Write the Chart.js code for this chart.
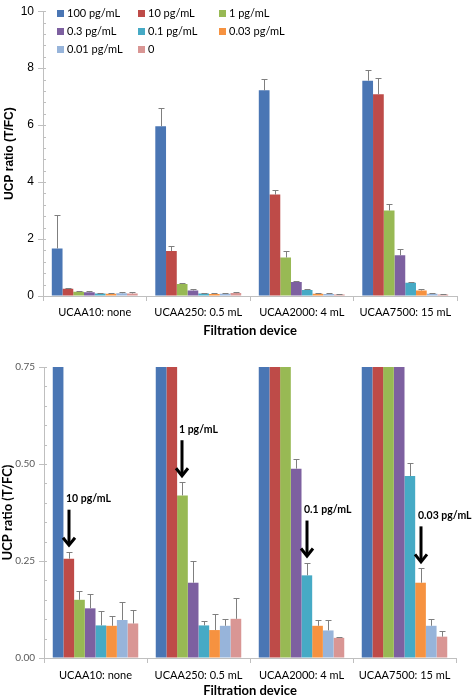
<!DOCTYPE html>
<html>
<head>
<meta charset="utf-8">
<script src="https://cdn.jsdelivr.net/npm/chart.js@4.4.1/dist/chart.umd.min.js"></script>
<style>
  html, body { margin: 0; padding: 0; background: #fff; }
  #wrap { position: relative; width: 472px; height: 699px; overflow: hidden; }
  #top { position: absolute; left: 0; top: 0; }
  #bottom { position: absolute; left: 0; top: 345px; }
  #legend { position: absolute; left: 57px; top: 6px; width: 250px; font-family: Lato, sans-serif; font-size: 11px; color: #000; }
  .li { position: absolute; height: 14px; line-height: 14px; white-space: nowrap; }
  .li span.box { display: inline-block; width: 7px; height: 7px; margin-right: 3px; vertical-align: 0px; }
</style>
</head>
<body>
<div id="wrap">
  <canvas id="top" width="472" height="340"></canvas>
  <canvas id="bottom" width="472" height="354"></canvas>
  <div id="legend"></div>
</div>
<script>
// ---------------- DATA ----------------
const categories = ['UCAA10: none', 'UCAA250: 0.5 mL', 'UCAA2000: 4 mL', 'UCAA7500: 15 mL'];
const seriesNames = ['100 pg/mL', '10 pg/mL', '1 pg/mL', '0.3 pg/mL', '0.1 pg/mL', '0.03 pg/mL', '0.01 pg/mL', '0'];
const seriesColors = ['#4A76B4', '#BE4B48', '#98B954', '#7D60A0', '#46AAC5', '#F69240', '#97B4DA', '#D99694'];

const s100  = [1.67, 5.96, 7.22, 7.56];
const s10   = [0.256, 1.58, 3.56, 7.08];
const s1    = [0.150, 0.419, 1.35, 3.00];
const s03   = [0.128, 0.194, 0.488, 1.43];
const s01   = [0.084, 0.084, 0.213, 0.469];
const s003  = [0.083, 0.072, 0.083, 0.194];
const s001  = [0.098, 0.083, 0.071, 0.083];
const s0    = [0.089, 0.101, 0.052, 0.055];

const e100  = [1.16, 0.65, 0.40, 0.37];
const e10   = [0.018, 0.17, 0.17, 0.58];
const e1    = [0.023, 0.034, 0.23, 0.22];
const e03   = [0.038, 0.055, 0.025, 0.21];
const e01   = [0.036, 0.011, 0.033, 0.033];
const e003  = [0.026, 0.042, 0.015, 0.037];
const e001  = [0.046, 0.017, 0.027, 0.017];
const e0    = [0.036, 0.053, 0.002, 0.015];

const seriesValues = [s100, s10, s1, s03, s01, s003, s001, s0];
const seriesErrors = [e100, e10, e1, e03, e01, e003, e001, e0];

const topTicks = [0, 2, 4, 6, 8, 10];
const topMinorStep = 0.4;
const bottomTicks = [0, 0.25, 0.5, 0.75];
const bottomMinorStep = 0.05;

// annotations on the zoomed chart: label and the series it points at, per category
const annotLabels = ['10 pg/mL', '1 pg/mL', '0.1 pg/mL', '0.03 pg/mL'];
const annotSeries = [1, 2, 4, 5];

// ---------------- LEGEND ----------------
const legend = document.getElementById('legend');
seriesNames.forEach((n, i) => {
  const d = document.createElement('div');
  d.className = 'li';
  d.style.left = ((i % 3) * 81) + 'px';
  d.style.top = (Math.floor(i / 3) * 18.2) + 'px';
  d.innerHTML = '<span class="box" style="background:' + seriesColors[i] + '"></span>' + n;
  legend.appendChild(d);
});

// ---------------- PLUGINS ----------------
const errorBars = {
  id: 'errorBars',
  afterDatasetsDraw(chart) {
    const ctx = chart.ctx, y = chart.scales.y, a = chart.chartArea;
    ctx.save();
    ctx.beginPath();
    ctx.rect(a.left, a.top - 1, a.right - a.left, a.bottom - a.top + 1);
    ctx.clip();
    ctx.strokeStyle = '#7F7F7F';
    ctx.lineWidth = 1;
    chart.data.datasets.forEach((ds, di) => {
      const meta = chart.getDatasetMeta(di);
      meta.data.forEach((bar, i) => {
        const v = ds.data[i], e = seriesErrors[di][i];
        const x = Math.round(bar.x) + 0.5;
        const y1 = y.getPixelForValue(v);
        const y2 = Math.round(y.getPixelForValue(v + e)) + 0.5;
        ctx.beginPath();
        ctx.moveTo(x, y1);
        ctx.lineTo(x, y2);
        ctx.moveTo(x - 3, y2);
        ctx.lineTo(x + 3, y2);
        ctx.stroke();
      });
    });
    ctx.restore();
  }
};

function minorTicksPlugin(step) {
  return {
    id: 'minorTicks',
    afterDraw(chart) {
      const ctx = chart.ctx, y = chart.scales.y;
      const x = chart.chartArea.left;
      ctx.save();
      ctx.strokeStyle = '#BFBFBF';
      ctx.lineWidth = 1;
      const n = Math.round((y.max - y.min) / step);
      for (let k = 0; k <= n; k++) {
        const v = y.min + k * step;
        const py = Math.round(y.getPixelForValue(v)) + 0.5;
        ctx.beginPath();
        ctx.moveTo(x, py);
        ctx.lineTo(x + 3, py);
        ctx.stroke();
      }
      ctx.restore();
    }
  };
}

const arrows = {
  id: 'arrows',
  afterDraw(chart) {
    const ctx = chart.ctx, y = chart.scales.y;
    ctx.save();
    annotSeries.forEach((si, ci) => {
      const bar = chart.getDatasetMeta(si).data[ci];
      const top = y.getPixelForValue(seriesValues[si][ci] + seriesErrors[si][ci]);
      const x = Math.round(bar.x);
      const tip = top - 5;
      const start = tip - 37;
      ctx.strokeStyle = '#000';
      ctx.fillStyle = '#000';
      ctx.lineWidth = 3;
      ctx.beginPath();
      ctx.moveTo(x, start);
      ctx.lineTo(x, tip - 3);
      ctx.stroke();
      ctx.lineJoin = 'miter';
      ctx.beginPath();
      ctx.moveTo(x - 6, tip - 9);
      ctx.lineTo(x, tip - 1.5);
      ctx.lineTo(x + 6, tip - 9);
      ctx.stroke();
      ctx.font = 'bold 10.5px Lato';
      ctx.textAlign = 'left';
      ctx.textBaseline = 'middle';
      ctx.fillText(annotLabels[ci], x - 3, start - 11);
    });
    ctx.restore();
  }
};

// ---------------- CHARTS ----------------
function makeDatasets() {
  return seriesValues.map((vals, i) => ({
    label: seriesNames[i],
    data: vals,
    backgroundColor: seriesColors[i],
    borderWidth: 0,
    categoryPercentage: 0.83,
    barPercentage: 1.0
  }));
}

const gridGray = '#BFBFBF';

new Chart(document.getElementById('top'), {
  type: 'bar',
  data: { labels: categories, datasets: makeDatasets() },
  plugins: [errorBars, minorTicksPlugin(topMinorStep)],
  options: {
    responsive: false,
    animation: false,
    devicePixelRatio: 1,
    layout: { padding: { left: 0, right: 15, top: 0, bottom: 0 } },
    plugins: { legend: { display: false }, tooltip: { enabled: false } },
    scales: {
      y: {
        min: 0, max: 10,
        afterBuildTicks: s => { s.ticks = topTicks.map(v => ({ value: v })); },
        ticks: { font: { family: 'Liberation Sans', size: 12 }, color: '#000', padding: 4 },
        grid: { drawOnChartArea: false, tickLength: 5, color: gridGray },
        border: { color: gridGray },
        title: { display: true, text: 'UCP ratio (T/FC)', font: { family: 'Liberation Sans', size: 12, weight: 'bold' }, color: '#000', padding: { top: 2, bottom: 0 } },
        afterFit: s => { s.width = 43; }
      },
      x: {
        ticks: { font: { family: 'Lato', size: 11 }, color: '#000', padding: 5, maxRotation: 0 },
        grid: { drawOnChartArea: false, tickLength: 5, color: gridGray, offset: true },
        border: { color: gridGray },
        title: { display: true, text: 'Filtration device', font: { family: 'Lato', size: 13, weight: 'bold' }, color: '#000', padding: { top: 0, bottom: 1 } },
        afterFit: s => { s.height = 44; }
      }
    }
  }
});

new Chart(document.getElementById('bottom'), {
  type: 'bar',
  data: { labels: categories, datasets: makeDatasets() },
  plugins: [errorBars, minorTicksPlugin(bottomMinorStep), arrows],
  options: {
    responsive: false,
    animation: false,
    devicePixelRatio: 1,
    layout: { padding: { left: 0, right: 16, top: 22, bottom: 0 } },
    plugins: { legend: { display: false }, tooltip: { enabled: false } },
    scales: {
      y: {
        min: 0, max: 0.75,
        afterBuildTicks: s => { s.ticks = bottomTicks.map(v => ({ value: v })); },
        ticks: { font: { family: 'Lato', size: 10 }, color: '#595959', padding: 4, callback: v => Number(v).toFixed(2) },
        grid: { drawOnChartArea: false, tickLength: 5, color: gridGray },
        border: { color: gridGray },
        title: { display: true, text: 'UCP ratio (T/FC)', font: { family: 'Lato', size: 13, weight: 'bold' }, color: '#000', padding: { top: 0, bottom: 0 } },
        afterFit: s => { s.width = 44; }
      },
      x: {
        ticks: { font: { family: 'Lato', size: 11 }, color: '#000', padding: 6, maxRotation: 0 },
        grid: { drawOnChartArea: false, tickLength: 5, color: gridGray, offset: true },
        border: { color: gridGray },
        title: { display: true, text: 'Filtration device', font: { family: 'Lato', size: 13, weight: 'bold' }, color: '#000', padding: { top: 0, bottom: 0 } },
        afterFit: s => { s.height = 41; }
      }
    }
  }
});
</script>
</body>
</html>
